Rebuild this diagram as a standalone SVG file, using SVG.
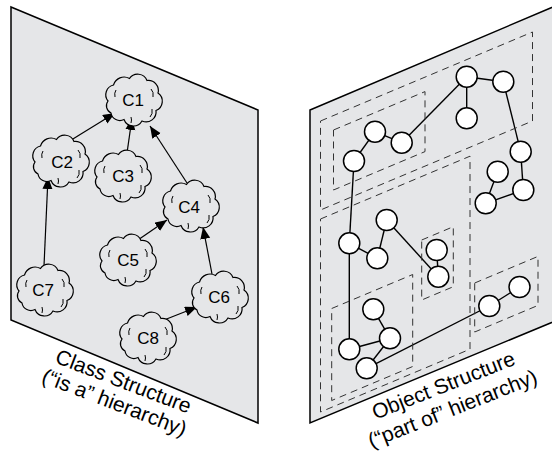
<svg xmlns="http://www.w3.org/2000/svg" width="552" height="459" viewBox="0 0 552 459">
<style>
.panel{fill:#e5e6e8;stroke:#000;stroke-width:1.5}
.cloud{fill:#e5e6e8;stroke:#000;stroke-width:1.2}
.tick{fill:none;stroke:#000;stroke-width:1}
.ctext{font-family:"Liberation Sans",Arial,sans-serif;font-size:17px;text-anchor:middle;fill:#000}
.label{font-family:"Liberation Sans",Arial,sans-serif;font-size:21px;text-anchor:middle;fill:#000}
.arrow{stroke:#000;stroke-width:1.2;fill:none;marker-end:url(#ah)}
.link{stroke:#000;stroke-width:1.4;fill:none}
.obj{fill:#fff;stroke:#000;stroke-width:1.5}
.box{fill:none;stroke:#333;stroke-width:1;stroke-dasharray:7 5}
</style>
<defs>
<marker id="ah" markerUnits="userSpaceOnUse" markerWidth="13" markerHeight="11" refX="12" refY="5" orient="auto">
<path d="M0,0 L12,5 L0,10 z" fill="#000"/>
</marker>
<g id="cloudshape">
<path class="cloud" d="M-25,2 A10,10 0 0 1 -19.5,-14 A11,11 0 0 1 -3.5,-20.5 A10,10 0 0 1 14,-18.5 A10,10 0 0 1 25,-6 A10,10 0 0 1 23,11.5 A10,10 0 0 1 9,22 A10,10 0 0 1 -9,20.5 A9,9 0 0 1 -22,14 A8,8 0 0 1 -25,2 Z"/>
<path class="tick" d="M18,-10 q3,3 2,8 M19,10 q1,5 -2,8 M-2,18 q1,3 0,6 M-17,-9 q-2,3 -1,7"/>
</g>
</defs>

<g id="class-panel">
<polygon class="panel" points="11,7 258,110 258,423 11,320"/>
</g>
<g id="object-panel">
<polygon class="panel" points="310,110 560,4 560,319 310,423"/>
</g>

<g id="connectors">
<line class="arrow" x1="68" y1="142" x2="115" y2="113"/>
<line class="arrow" x1="127" y1="153" x2="132" y2="118"/>
<line class="arrow" x1="187" y1="183" x2="150" y2="126"/>
<line class="arrow" x1="44" y1="266" x2="48" y2="177"/>
<line class="arrow" x1="135" y1="242" x2="167" y2="220"/>
<line class="arrow" x1="212" y1="274" x2="203" y2="227"/>
<line class="arrow" x1="159" y1="322" x2="197" y2="307"/>

<g id="object-links">
<line class="link" x1="466.7" y1="76.7" x2="503.3" y2="81.7"/>
<line class="link" x1="466.7" y1="76.7" x2="466.7" y2="118.3"/>
<line class="link" x1="466.7" y1="76.7" x2="401.7" y2="142.7"/>
<line class="link" x1="375" y1="131.7" x2="401.7" y2="142.7"/>
<line class="link" x1="375" y1="131.7" x2="354" y2="161"/>
<line class="link" x1="503.3" y1="81.7" x2="520.7" y2="151.7"/>
<line class="link" x1="520.7" y1="151.7" x2="523.3" y2="190"/>
<line class="link" x1="523.3" y1="190" x2="485.7" y2="203.3"/>
<line class="link" x1="497.7" y1="171.7" x2="485.7" y2="203.3"/>
<line class="link" x1="354" y1="161" x2="349.3" y2="243.3"/>
<line class="link" x1="349.3" y1="243.3" x2="377.3" y2="258.3"/>
<line class="link" x1="377.3" y1="258.3" x2="386.7" y2="220"/>
<line class="link" x1="386.7" y1="220" x2="438.3" y2="276.7"/>
<line class="link" x1="436.7" y1="250" x2="438.3" y2="276.7"/>
<line class="link" x1="349.3" y1="243.3" x2="349.3" y2="349.3"/>
<line class="link" x1="349.3" y1="349.3" x2="390" y2="338.3"/>
<line class="link" x1="373.3" y1="309.3" x2="390" y2="338.3"/>
<line class="link" x1="390" y1="338.3" x2="366.7" y2="368.3"/>
<line class="link" x1="366.7" y1="368.3" x2="489.3" y2="306"/>
<line class="link" x1="489.3" y1="306" x2="519.5" y2="287"/>
</g>
</g>

<g id="C1"><use href="#cloudshape" x="133" y="99"/><text class="ctext" x="133" y="106">C1</text></g>
<g id="C2"><use href="#cloudshape" x="60" y="160"/><text class="ctext" x="62" y="168">C2</text></g>
<g id="C3"><use href="#cloudshape" x="122" y="175"/><text class="ctext" x="123" y="182">C3</text></g>
<g id="C4"><use href="#cloudshape" x="190" y="205"/><text class="ctext" x="189" y="213">C4</text></g>
<g id="C5"><use href="#cloudshape" x="127" y="259"/><text class="ctext" x="128" y="266">C5</text></g>
<g id="C6"><use href="#cloudshape" x="219" y="296"/><text class="ctext" x="219" y="303">C6</text></g>
<g id="C7"><use href="#cloudshape" x="44" y="289"/><text class="ctext" x="43" y="296">C7</text></g>
<g id="C8"><use href="#cloudshape" x="147" y="337"/><text class="ctext" x="148" y="344">C8</text></g>

<g id="groups">
<polygon class="box" points="320.5,121 532.5,32 532.5,121 320.5,210"/>
<polygon class="box" points="333.5,130 425,91.6 425,151.6 333.5,190"/>
<polygon class="box" points="320.5,219 470,156.2 470,349.2 320.5,412"/>
<polygon class="box" points="421.7,240 453.3,226.7 453.3,286.7 421.7,300"/>
<polygon class="box" points="331.7,308.5 412.7,274.5 412.7,366.5 331.7,400.5"/>
<polygon class="box" points="474.7,283 538,256.4 538,305.4 474.7,332"/>
</g>

<g id="objects">
<circle class="obj" cx="466.7" cy="76.7" r="10.5"/>
<circle class="obj" cx="503.3" cy="81.7" r="10.5"/>
<circle class="obj" cx="466.7" cy="118.3" r="10.5"/>
<circle class="obj" cx="375" cy="131.7" r="10.5"/>
<circle class="obj" cx="401.7" cy="142.7" r="10.5"/>
<circle class="obj" cx="354" cy="161" r="10.5"/>
<circle class="obj" cx="520.7" cy="151.7" r="10.5"/>
<circle class="obj" cx="497.7" cy="171.7" r="10.5"/>
<circle class="obj" cx="523.3" cy="190" r="10.5"/>
<circle class="obj" cx="485.7" cy="203.3" r="10.5"/>
<circle class="obj" cx="386.7" cy="220" r="10.5"/>
<circle class="obj" cx="349.3" cy="243.3" r="10.5"/>
<circle class="obj" cx="377.3" cy="258.3" r="10.5"/>
<circle class="obj" cx="436.7" cy="250" r="10.5"/>
<circle class="obj" cx="438.3" cy="276.7" r="10.5"/>
<circle class="obj" cx="373.3" cy="309.3" r="10.5"/>
<circle class="obj" cx="390" cy="338.3" r="10.5"/>
<circle class="obj" cx="349.3" cy="349.3" r="10.5"/>
<circle class="obj" cx="366.7" cy="368.3" r="10.5"/>
<circle class="obj" cx="489.3" cy="306" r="10.5"/>
<circle class="obj" cx="519.5" cy="287" r="10.5"/>
</g>

<g id="class-label" transform="translate(121,388) rotate(21)">
<text class="label" x="0" y="0">Class Structure</text>
<text class="label" x="-1" y="23">(“is a” hierarchy)</text>
</g>
<g id="object-label" transform="translate(446,392) rotate(-21.5)">
<text class="label" x="0" y="0">Object Structure</text>
<text class="label" x="0" y="25">(“part of” hierarchy)</text>
</g>
</svg>
